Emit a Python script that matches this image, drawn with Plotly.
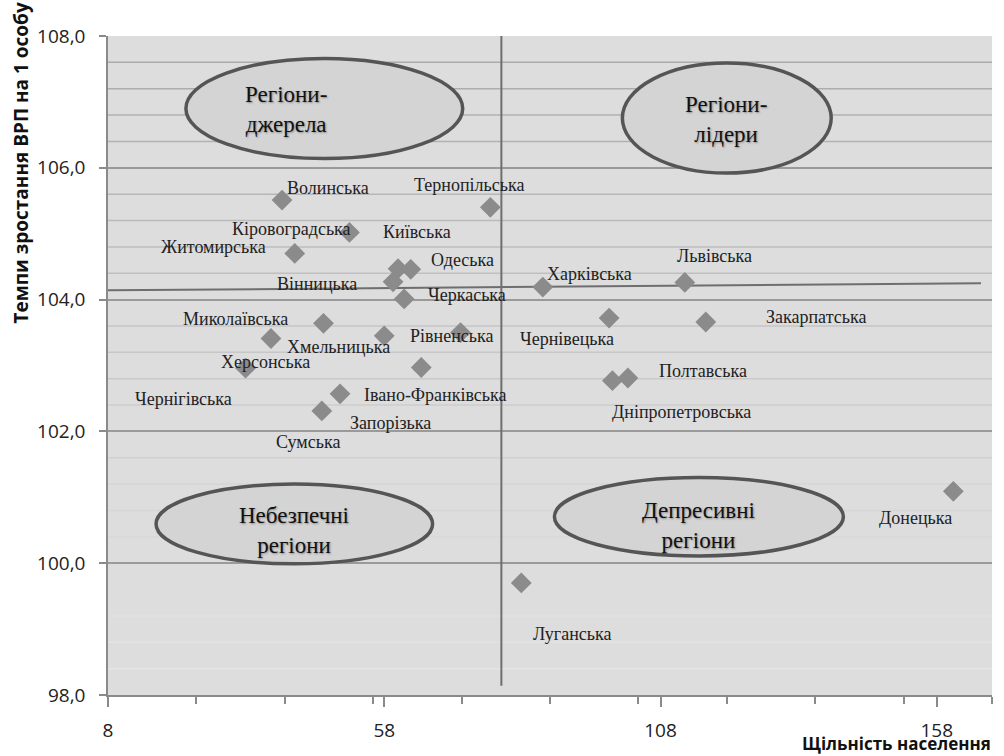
import plotly.graph_objects as go

# ---------------- data ----------------
regions = [
    "Волинська", "Тернопільська", "Кіровоградська", "Житомирська", "Київська",
    "Одеська", "Вінницька", "Черкаська", "Миколаївська", "Хмельницька",
    "Рівненська", "Херсонська", "Чернігівська", "Івано-Франківська", "Запорізька",
    "Сумська", "Харківська", "Львівська", "Чернівецька", "Закарпатська",
    "Полтавська", "Дніпропетровська", "Донецька", "Луганська",
]
density = [
    39.5, 77.2, 51.7, 41.8, 60.5,
    62.8, 59.6, 61.6, 47.0, 58.0,
    71.8, 32.9, 37.5, 50.0, 64.7,
    46.7, 86.7, 112.4, 98.7, 116.2,
    102.1, 99.3, 161.0, 82.8,
]
grp_growth = [
    105.51, 105.40, 105.02, 104.70, 104.47,
    104.46, 104.27, 104.01, 103.64, 103.45,
    103.50, 102.96, 103.41, 102.57, 102.97,
    102.31, 104.19, 104.26, 103.72, 103.66,
    102.81, 102.77, 101.09, 99.70,
]
density_threshold = 79.2
trend_x = [8, 166]
trend_y = [104.14, 104.25]

x_tick_vals = [8, 58, 108, 158]
x_minor_vals = [8, 24, 40, 56, 72, 88, 104, 120, 136, 152, 168]
y_tick_vals = [98, 100, 102, 104, 106, 108]
y_minor_vals = [98.4, 98.8, 99.2, 99.6, 100.4, 100.8, 101.2, 101.6,
                102.4, 102.8, 103.2, 103.6, 104.4, 104.8, 105.2, 105.6,
                106.4, 106.8, 107.2, 107.6]

quadrant_texts = ["Регіони-<br>джерела", "Регіони-<br>лідери",
                  "Небезпечні<br>регіони", "Депресивні<br>регіони"]

y_title = "Темпи зростання ВРП на 1 особу"
x_title = "Щільність населення"

# ---------------- layout / style ----------------
# pixel offsets of the data labels relative to their points (dx right, dy down)
label_offsets = [
    (46, -12), (-21, -22), (-58, -3), (-81, -6), (19, -37),
    (52, -9), (-76, 2), (63, -4), (-88, -4), (-46, 11),
    (-9, 3), (20, -6), (-87, 61), (95, 1), (-31, 56),
    (-14, 31), (47, -13), (30, -26), (-42, 21), (110, -5),
    (75, -7), (69, 31), (-38, 27), (51, 51),
]
# ellipse boxes (x0, x1, y0, y1) in axis units, and text anchor
ellipses = [
    (22.1, 72.2, 106.14, 107.66, 40.2, 106.88),
    (101.1, 138.9, 105.92, 107.59, 119.8, 106.74),
    (16.7, 66.75, 99.99, 101.20, 41.7, 100.50),
    (88.8, 141.1, 100.11, 101.30, 114.9, 100.57),
]

SERIF = "Liberation Serif"
SANS = "Open Sans"

fig = go.Figure()
fig.add_trace(go.Scatter(
    x=density, y=grp_growth, mode="markers",
    marker=dict(symbol="diamond", size=16, color="#8b8b8b", line=dict(width=0)),
    text=regions, hoverinfo="text", showlegend=False,
))

shapes = []
# minor gridlines with gradient
for v in y_minor_vals:
    t = (108 - v) / 10.0
    g = int(round(0xa8 + t * (0xe8 - 0xa8)))
    col = f"rgb({g},{g},{g})"
    shapes.append(dict(type="line", xref="paper", yref="y", x0=0, x1=1, y0=v, y1=v,
                       line=dict(color=col, width=1.5), layer="below"))
# vertical threshold line
shapes.append(dict(type="line", xref="x", yref="y", x0=density_threshold, x1=density_threshold,
                   y0=98.14, y1=108.12, line=dict(color="#6e6e6e", width=2), layer="between"))
# horizontal (trend) line
shapes.append(dict(type="line", xref="x", yref="y", x0=trend_x[0], x1=trend_x[1],
                   y0=trend_y[0], y1=trend_y[1], line=dict(color="#6e6e6e", width=2), layer="between"))
for (x0, x1, y0, y1, _, _) in ellipses:
    shapes.append(dict(type="circle", xref="x", yref="y", x0=x0, x1=x1, y0=y0, y1=y1,
                       fillcolor="#d4d4d4", line=dict(color="#555555", width=3.5), layer="above"))

annotations = []
for name, xv, yv, (dx, dy) in zip(regions, density, grp_growth, label_offsets):
    annotations.append(dict(x=xv, y=yv, xref="x", yref="y", text=name, showarrow=False,
                            xshift=dx, yshift=-dy, xanchor="center", yanchor="middle",
                            font=dict(family=SERIF, size=18, color="#222222")))
for txt, (_, _, _, _, tx, ty) in zip(quadrant_texts, ellipses):
    annotations.append(dict(x=tx, y=ty, xref="x", yref="y", text=txt, showarrow=False,
                            xanchor="center", yanchor="middle",
                            font=dict(family=SERIF, size=23, color="#111111",
                                      shadow="1px 1px 2px rgba(0,0,0,0.35)")))
annotations.append(dict(x=-0.0984, y=0.8065, xref="paper", yref="paper", text=f"<b>{y_title}</b>",
                        textangle=-90, showarrow=False, xanchor="center", yanchor="middle",
                        font=dict(family=SANS, size=19, color="#111111")))
annotations.append(dict(x=0.8925, y=-0.0926, xref="paper", yref="paper", text=f"<b>{x_title}</b>",
                        showarrow=False, xanchor="center", yanchor="bottom", borderpad=0,
                        font=dict(family=SANS, size=17, color="#111111")))

fig.update_layout(
    width=1004, height=756, autosize=False,
    margin=dict(l=108, r=12, t=36, b=61, pad=0, autoexpand=False),
    paper_bgcolor="white", plot_bgcolor="#dddddd",
    separators=", ",
    shapes=shapes, annotations=annotations,
    xaxis=dict(range=[8, 168], tickmode="array", tickvals=x_tick_vals,
               ticktext=[str(v) for v in x_tick_vals], automargin=False,
               ticks="outside", ticklen=10, tickcolor="#8a8a8a", tickwidth=1.5,
               showgrid=False, zeroline=False, showline=True, linecolor="#8a8a8a", linewidth=1.5,
               ticklabelstandoff=7,
               tickfont=dict(family=SANS, size=19, color="#222222"),
               minor=dict(tickmode="array", tickvals=x_minor_vals, ticks="outside",
                          ticklen=7, tickcolor="#8a8a8a", tickwidth=1.5, showgrid=False)),
    yaxis=dict(range=[98, 108], tickmode="array", tickvals=y_tick_vals, tickformat=".1f",
               automargin=False,
               ticks="outside", ticklen=7, tickcolor="#8a8a8a", tickwidth=1.5,
               showgrid=True, gridcolor="#9a9a9a", gridwidth=1.5,
               zeroline=False, showline=True, linecolor="#8a8a8a", linewidth=1.5,
               ticklabelstandoff=10,
               tickfont=dict(family=SANS, size=19, color="#222222")),
)

fig.write_html("out.html", config={"displayModeBar": False},
               post_script="document.body.style.margin='0';document.body.style.overflow='hidden';")
